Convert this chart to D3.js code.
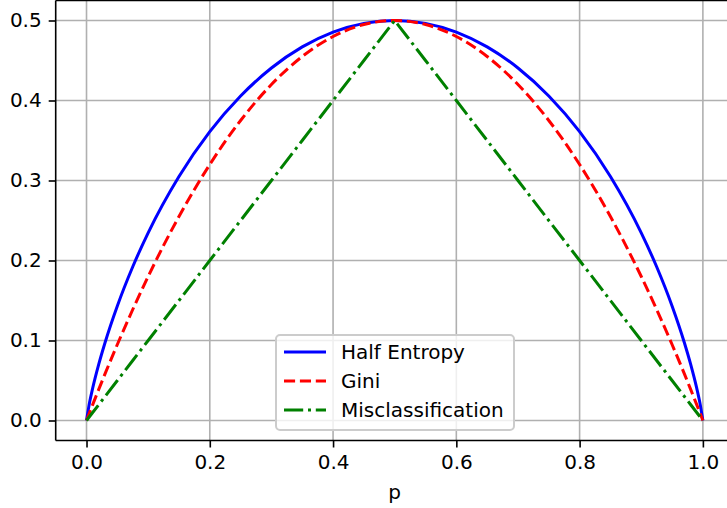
<!DOCTYPE html>
<html>
<head>
<meta charset="utf-8">
<script src="https://cdn.jsdelivr.net/npm/d3@7"></script>
<style>
  body { margin: 0; background: #fff; }
  svg { display: block; font-family: "DejaVu Sans", sans-serif; }
  .grid line { stroke: #b0b0b0; stroke-width: 1.6; }
  .axis path, .axis line { stroke: #000; stroke-width: 1.6; }
  .axis text { font-size: 20px; fill: #000; }
</style>
</head>
<body>
<div class="chart"></div>
<script>
// p values (x) and the three impurity curves
const pValues = [0, 0.005, 0.01, 0.02, 0.03, 0.05, 0.075, 0.1, 0.15, 0.2, 0.25, 0.3, 0.35, 0.4, 0.45, 0.5,
  0.55, 0.6, 0.65, 0.7, 0.75, 0.8, 0.85, 0.9, 0.925, 0.95, 0.97, 0.98, 0.99, 0.995, 1];
const halfEntropy = [0, 0.0227, 0.0404, 0.0707, 0.0972, 0.1432, 0.1922, 0.2345, 0.3049, 0.361, 0.4056, 0.4406, 0.467, 0.4855, 0.4964, 0.5,
  0.4964, 0.4855, 0.467, 0.4406, 0.4056, 0.361, 0.3049, 0.2345, 0.1922, 0.1432, 0.0972, 0.0707, 0.0404, 0.0227, 0];
const gini = [0, 0.00995, 0.0198, 0.0392, 0.0582, 0.095, 0.13875, 0.18, 0.255, 0.32, 0.375, 0.42, 0.455, 0.48, 0.495, 0.5,
  0.495, 0.48, 0.455, 0.42, 0.375, 0.32, 0.255, 0.18, 0.13875, 0.095, 0.0582, 0.0392, 0.0198, 0.00995, 0];
const misclass = [0, 0.005, 0.01, 0.02, 0.03, 0.05, 0.075, 0.1, 0.15, 0.2, 0.25, 0.3, 0.35, 0.4, 0.45, 0.5,
  0.45, 0.4, 0.35, 0.3, 0.25, 0.2, 0.15, 0.1, 0.075, 0.05, 0.03, 0.02, 0.01, 0.005, 0];
const xTicks = [0, 0.2, 0.4, 0.6, 0.8, 1.0];
const yTicks = [0, 0.1, 0.2, 0.3, 0.4, 0.5];

const series = [
  { name: "Half Entropy", values: halfEntropy, color: "blue", dash: null, curve: d3.curveMonotoneX },
  { name: "Gini", values: gini, color: "red", dash: "11.1,4.8", curve: d3.curveMonotoneX },
  { name: "Misclassification", values: misclass, color: "green", dash: "19.2,4.8,3,4.8", curve: d3.curveLinear }
];

const W = 727, H = 508;
const margin = { top: 0.5, left: 55.7, bottom: 67.5 };
const plotW = 678, plotH = H - margin.top - margin.bottom;

const svg = d3.select(".chart").append("svg")
  .attr("width", W).attr("height", H);

const x = d3.scaleLinear().domain([-0.05, 1.05]).range([margin.left, margin.left + plotW]);
const y = d3.scaleLinear().domain([-0.025, 0.525]).range([margin.top + plotH, margin.top]);

// grid
const grid = svg.append("g").attr("class", "grid");
grid.selectAll(".gx").data(xTicks).enter().append("line")
  .attr("x1", d => x(d)).attr("x2", d => x(d))
  .attr("y1", y.range()[0]).attr("y2", y.range()[1]);
grid.selectAll(".gy").data(yTicks).enter().append("line")
  .attr("y1", d => y(d)).attr("y2", d => y(d))
  .attr("x1", x.range()[0]).attr("x2", x.range()[1]);

// lines
const line = (curve) => d3.line()
  .x((d, i) => x(pValues[i]))
  .y(d => y(d))
  .curve(curve);

svg.selectAll(".series").data(series).enter().append("path")
  .attr("class", "series")
  .attr("d", s => line(s.curve)(s.values))
  .attr("fill", "none")
  .attr("stroke", s => s.color)
  .attr("stroke-width", 3)
  .attr("stroke-dasharray", s => s.dash);

// axes
const xAxis = d3.axisBottom(x).tickValues(xTicks).tickFormat(d3.format(".1f"))
  .tickSize(7).tickPadding(7).tickSizeOuter(0);
const yAxis = d3.axisLeft(y).tickValues(yTicks).tickFormat(d3.format(".1f"))
  .tickSize(7).tickPadding(7).tickSizeOuter(0);

svg.append("g").attr("class", "axis x-axis")
  .attr("transform", `translate(0, ${y.range()[0]})`)
  .call(xAxis)
  .call(g => g.select(".domain").attr("d", `M${x.range()[0]},0H${x.range()[1]}`));

svg.append("g").attr("class", "axis y-axis")
  .attr("transform", `translate(${x.range()[0]}, 0)`)
  .call(yAxis)
  .call(g => g.select(".domain").attr("d", `M0,${y.range()[0]}V${y.range()[1]}`));

// top spine
svg.append("line")
  .attr("x1", x.range()[0]).attr("x2", x.range()[1])
  .attr("y1", y.range()[1]).attr("y2", y.range()[1])
  .attr("stroke", "#000").attr("stroke-width", 1.6);

svg.selectAll(".axis text").attr("font-family", "DejaVu Sans");

svg.append("text")
  .attr("x", x(0.5)).attr("y", 499)
  .attr("text-anchor", "middle")
  .style("font-size", "20px")
  .text("p");

// legend
const legend = svg.append("g").attr("transform", "translate(276, 335)");
legend.append("rect")
  .attr("width", 238).attr("height", 95)
  .attr("rx", 4).attr("ry", 4)
  .attr("fill", "white").attr("fill-opacity", 0.8)
  .attr("stroke", "#cccccc").attr("stroke-width", 2);

const rows = legend.selectAll(".row").data(series).enter().append("g")
  .attr("transform", (d, i) => `translate(0, ${17 + i * 29})`);
rows.append("line")
  .attr("x1", 8).attr("x2", 50)
  .attr("stroke", d => d.color).attr("stroke-width", 3)
  .attr("stroke-dasharray", d => d.dash);
rows.append("text")
  .attr("x", 65).attr("dy", "0.35em")
  .style("font-size", "20px")
  .text(d => d.name);
</script>
</body>
</html>
